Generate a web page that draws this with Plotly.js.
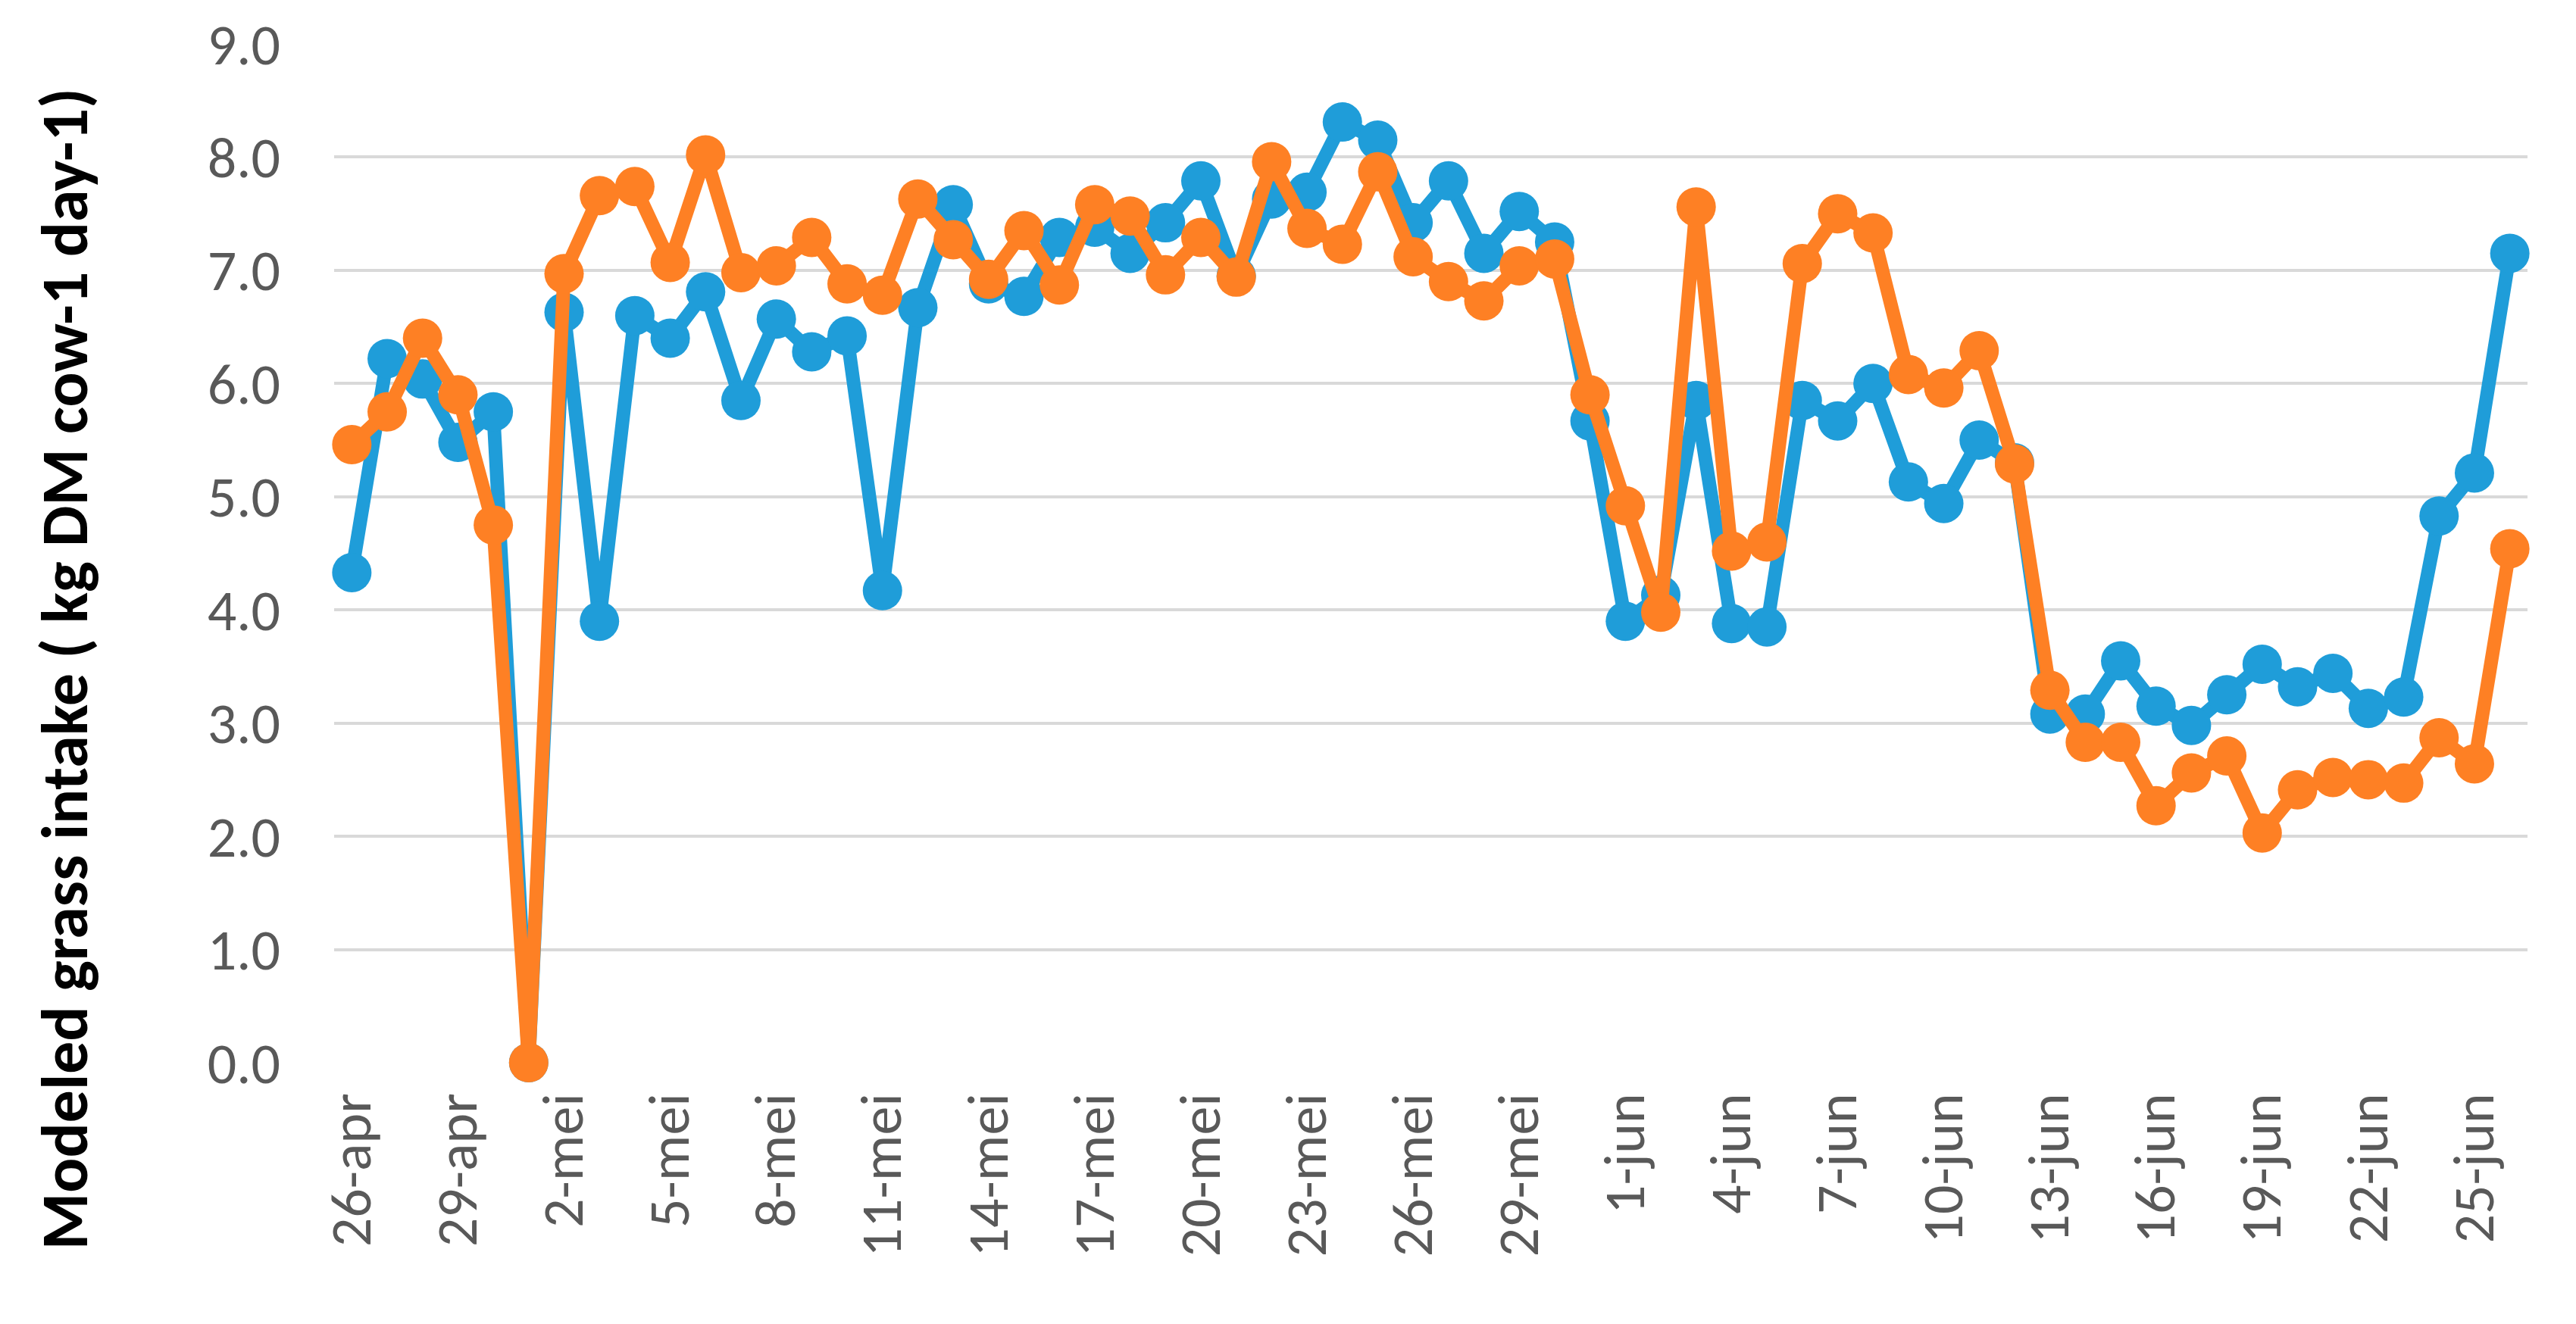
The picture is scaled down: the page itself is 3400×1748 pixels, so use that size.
<!DOCTYPE html>
<html>
<head>
<meta charset="utf-8">
<script src="https://cdn.plot.ly/plotly-3.0.1.min.js"></script>
<style>html,body{margin:0;padding:0;background:#fff;}#chart{width:3400px;height:1748px;}</style>
</head>
<body>
<div id="chart"></div>
<script>
// Dates (category axis)
const dates = [
  "26-apr","27-apr","28-apr","29-apr","30-apr",
  "1-mei","2-mei","3-mei","4-mei","5-mei","6-mei","7-mei","8-mei","9-mei","10-mei",
  "11-mei","12-mei","13-mei","14-mei","15-mei","16-mei","17-mei","18-mei","19-mei","20-mei",
  "21-mei","22-mei","23-mei","24-mei","25-mei","26-mei","27-mei","28-mei","29-mei","30-mei","31-mei",
  "1-jun","2-jun","3-jun","4-jun","5-jun","6-jun","7-jun","8-jun","9-jun","10-jun",
  "11-jun","12-jun","13-jun","14-jun","15-jun","16-jun","17-jun","18-jun","19-jun","20-jun",
  "21-jun","22-jun","23-jun","24-jun","25-jun","26-jun"
];

// Blue series
const blueValues = [
  4.33, 6.22, 6.04, 5.48, 5.75,
  0.00, 6.63, 3.90, 6.60, 6.40, 6.81, 5.85, 6.57, 6.28, 6.42,
  4.17, 6.67, 7.58, 6.88, 6.77, 7.29, 7.38, 7.15, 7.42, 7.79,
  6.95, 7.63, 7.69, 8.31, 8.15, 7.42, 7.79, 7.15, 7.52, 7.25, 5.67,
  3.90, 4.13, 5.85, 3.88, 3.85, 5.85, 5.67, 6.00, 5.13, 4.94,
  5.50, 5.30, 3.08, 3.08, 3.55, 3.15, 2.98, 3.25, 3.52, 3.32,
  3.44, 3.13, 3.23, 4.83, 5.21, 7.15
];

// Orange series
const orangeValues = [
  5.46, 5.75, 6.40, 5.90, 4.75,
  0.00, 6.97, 7.66, 7.74, 7.07, 8.02, 6.98, 7.04, 7.29, 6.88,
  6.78, 7.63, 7.27, 6.92, 7.35, 6.87, 7.58, 7.48, 6.96, 7.29,
  6.94, 7.96, 7.37, 7.23, 7.87, 7.12, 6.90, 6.73, 7.04, 7.10, 5.90,
  4.92, 3.98, 7.56, 4.52, 4.60, 7.06, 7.50, 7.33, 6.08, 5.96,
  6.29, 5.29, 3.29, 2.83, 2.83, 2.27, 2.56, 2.71, 2.03, 2.41,
  2.52, 2.50, 2.47, 2.87, 2.64, 4.54
];

// Tick labels (every third day)
const xTickLabels = dates.filter((d, i) => i % 3 === 0);
const yTickVals = [0,1,2,3,4,5,6,7,8,9];
const yTitle = "Modeled grass intake ( kg DM cow-1 day-1)";

const blueColor = "#1f9dd9";
const orangeColor = "#fe8024";
const fontFam = "Carlito, Calibri, Lato, sans-serif";

const traces = [
  {
    x: dates, y: blueValues, type: "scatter", mode: "lines+markers",
    line: {color: blueColor, width: 18},
    marker: {color: blueColor, size: 52},
    cliponaxis: false, showlegend: false
  },
  {
    x: dates, y: orangeValues, type: "scatter", mode: "lines+markers",
    line: {color: orangeColor, width: 18},
    marker: {color: orangeColor, size: 52},
    cliponaxis: false, showlegend: false
  }
];

const layout = {
  width: 3400, height: 1748,
  margin: {l: 441, r: 64, t: 58, b: 345},
  paper_bgcolor: "#ffffff", plot_bgcolor: "#ffffff",
  font: {family: fontFam, color: "#595959", size: 76},
  xaxis: {
    type: "category",
    range: [-0.5, dates.length - 0.5],
    tickmode: "array",
    tickvals: xTickLabels,
    ticktext: xTickLabels,
    tickangle: -90,
    showgrid: false, zeroline: false, showline: false,
    ticks: "",
    ticklabelstandoff: 24,
    tickfont: {family: fontFam, size: 76, color: "#595959"},
    fixedrange: true
  },
  yaxis: {
    range: [0, 9],
    tickmode: "array",
    tickvals: yTickVals,
    tickformat: ".1f",
    showgrid: true, gridcolor: "#d9d9d9", gridwidth: 4,
    zeroline: false, showline: false, ticks: "",
    ticklabelstandoff: 70,
    tickfont: {family: fontFam, size: 76, color: "#595959"},
    fixedrange: true
  },
  annotations: [{
    text: "<b>" + yTitle + "</b>",
    xref: "paper", yref: "paper",
    x: -0.123, y: 0.3866,
    xanchor: "center", yanchor: "middle",
    textangle: -90, showarrow: false,
    font: {family: fontFam, size: 86, color: "#000000"}
  }]
};

Plotly.newPlot("chart", traces, layout, {staticPlot: true, displayModeBar: false});
</script>
</body>
</html>
